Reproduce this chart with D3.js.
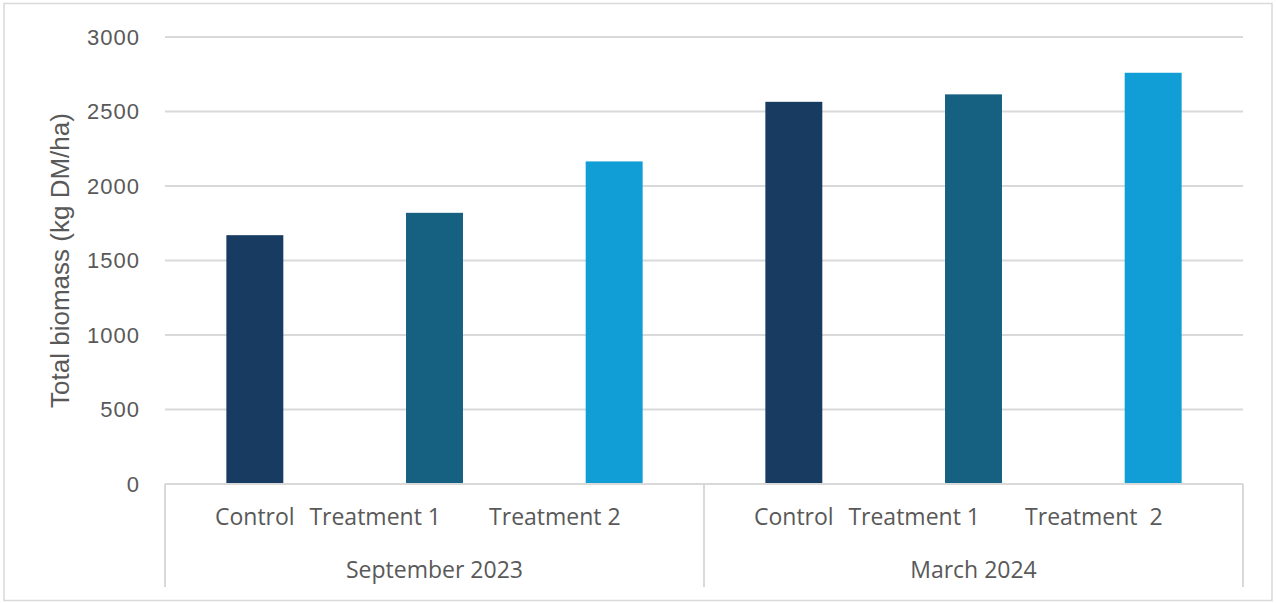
<!DOCTYPE html>
<html>
<head>
<meta charset="utf-8">
<script src="https://cdn.jsdelivr.net/npm/d3@7"></script>
<style>
  body { margin: 0; background: #fff; }
  text { font-family: "Open Sans", "Liberation Sans", sans-serif; fill: #595959; }
  .num { font-family: "Liberation Sans", Arial, sans-serif; }
</style>
</head>
<body>
<div id="main"></div>
<script>
const groups = ['September 2023', 'March 2024'];
const treatments = ['Control', 'Treatment 1', 'Treatment 2'];
const treatmentLabels = [
    ['Control', 'Treatment 1', 'Treatment 2'],
    ['Control', 'Treatment 1', 'Treatment  2']
];
const biomass = [
    [1670, 1820, 2165],
    [2565, 2615, 2760]
];
const yTicks = [0, 500, 1000, 1500, 2000, 2500, 3000];
const colors = ['#183b61', '#166082', '#119ed6'];

const w = 1276;
const h = 603;
const m = { left: 165, right: 33, top: 37, bottom: 119 };

// flatten to slots
const dataset = [];
groups.forEach((g, gi) => {
    treatments.forEach((t, ti) => {
        dataset.push({ group: g, gi: gi, treat: t, ti: ti, label: treatmentLabels[gi][ti], value: biomass[gi][ti] });
    });
});

const svg = d3.select('#main').append('svg').attr('width', w).attr('height', h);

// outer frame
svg.append('rect').attr('x', 4).attr('y', 3.5).attr('width', w - 8).attr('height', h - 6)
    .attr('fill', 'white').attr('stroke', '#d9d9d9').attr('stroke-width', 1.5);

const xScale = d3.scaleBand()
    .domain(dataset.map((d, i) => i))
    .range([m.left, w - m.right])
    .paddingInner(0.683).paddingOuter(0.3415);

const slot = d3.scaleBand().domain(dataset.map((d, i) => i)).range([m.left, w - m.right]);
const groupScale = d3.scaleBand().domain(groups).range([m.left, w - m.right]);

const yScale = d3.scaleLinear().domain([0, 3000]).range([h - m.bottom, m.top]);

// gridlines
svg.append('g').selectAll('line').data(yTicks.slice(1)).enter().append('line')
    .attr('x1', m.left).attr('x2', w - m.right)
    .attr('y1', d => yScale(d)).attr('y2', d => yScale(d))
    .attr('stroke', '#d9d9d9').attr('stroke-width', 2);

// y labels
svg.append('g').selectAll('text').data(yTicks).enter().append('text')
    .attr('class', 'num')
    .attr('x', 140).attr('y', d => yScale(d)).attr('dy', '0.35em')
    .style('text-anchor', 'end').style('font-size', '22px').style('letter-spacing', '1px')
    .text(d => d);

// y title
svg.append('text')
    .attr('class', 'num')
    .attr('transform', `translate(69,${(yScale(0) + yScale(3000)) / 2}) rotate(-90)`)
    .style('text-anchor', 'middle').style('font-size', '26px')
    .text('Total biomass (kg DM/ha)');

// bars
svg.append('g').selectAll('rect').data(dataset).enter().append('rect')
    .attr('x', (d, i) => xScale(i))
    .attr('width', xScale.bandwidth())
    .attr('y', d => yScale(d.value))
    .attr('height', d => yScale(0) - yScale(d.value))
    .attr('fill', d => colors[d.ti]);

// category axis
const axis = svg.append('g');
axis.append('line')
    .attr('x1', m.left).attr('x2', w - m.right)
    .attr('y1', yScale(0)).attr('y2', yScale(0))
    .attr('stroke', '#d9d9d9').attr('stroke-width', 2);

const seps = [groupScale(groups[0]), groupScale(groups[1]), groupScale(groups[1]) + groupScale.bandwidth()];
axis.selectAll('line.sep').data(seps).enter().append('line').attr('class', 'sep')
    .attr('x1', d => d).attr('x2', d => d)
    .attr('y1', yScale(0)).attr('y2', 587)
    .attr('stroke', '#d9d9d9').attr('stroke-width', 2);

axis.selectAll('text.cat').data(dataset).enter().append('text').attr('class', 'cat')
    .attr('x', (d, i) => slot(i) + slot.bandwidth() / 2 - (d.ti > 0 ? slot.bandwidth() * 0.33 : 0))
    .attr('y', 517).attr('dy', '0.35em')
    .style('text-anchor', 'middle').style('font-size', '23px').style('white-space', 'pre')
    .text(d => d.label);

axis.selectAll('text.grp').data(groups).enter().append('text').attr('class', 'grp')
    .attr('x', d => groupScale(d) + groupScale.bandwidth() / 2)
    .attr('y', 570).attr('dy', '0.35em')
    .style('text-anchor', 'middle').style('font-size', '23px')
    .text(d => d);
</script>
</body>
</html>
